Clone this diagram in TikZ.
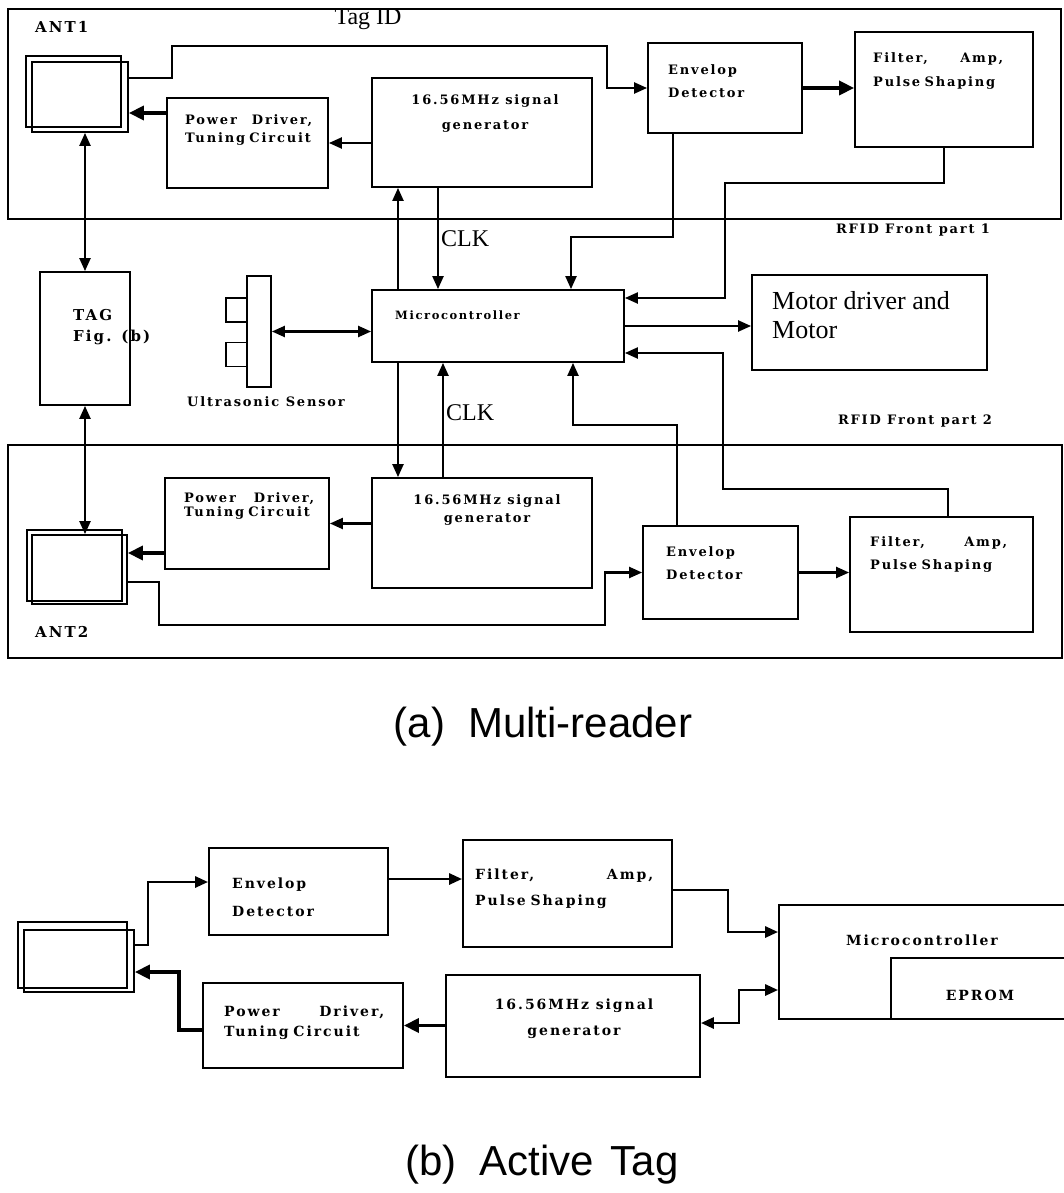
\documentclass[tikz,border=0pt]{standalone}
\usepackage{fontspec}
\setmainfont{Liberation Serif}
\newfontfamily\boxfont[LetterSpace=14]{DejaVu Serif}
\newfontfamily\capfont{Liberation Sans}
\usetikzlibrary{arrows.meta}
\newcommand{\spread}{\hskip0pt plus1filll\relax}

\begin{document}
\begin{tikzpicture}[x=1pt,y=-1pt,>={Triangle[length=13pt,width=11pt]},
  blk/.style={draw,line width=1.8pt,inner sep=0pt},
  frm/.style={draw,line width=1.4pt},
  wire/.style={line width=2.2pt},
  fat/.style={line width=3.6pt,>={Triangle[length=15pt,width=14pt]}},
  bt/.style={font=\boxfont\bfseries\fontsize{13}{#1}\selectfont,inner sep=0pt,align=left,anchor=north west},
  bt/.default=20,
  btb/.style={bt,font=\boxfont\bfseries\fontsize{14}{#1}\selectfont},
  btb/.default=26,
  rm/.style={font=\fontsize{#1}{29}\selectfont,inner sep=0pt},
  captxt/.style={font=\capfont\fontsize{42}{42}\selectfont,inner sep=0pt,anchor=base}]
  \useasboundingbox (0,0) rectangle (1064,1193);

  % (a) reader, front part 1
  \draw[frm] (8,9) rectangle (1061,219);
  \node[bt,font=\boxfont\bfseries\fontsize{15}{16}\selectfont,anchor=west] (ant1t) at (35,27) {ANT1};
  \node[rm=24] (tagid) at (368,19) {Tag ID};
  \node[blk,minimum width=96pt,minimum height=70pt] (ant1) at (80,97) {};
  \draw[blk] ([shift={(-5,-5)}]ant1.north west) rectangle ([shift={(-8,-6)}]ant1.south east);
  \node[blk,minimum width=161pt,minimum height=90pt] (pw1) at (247.5,143) {};
  \node[blk,minimum width=220pt,minimum height=109pt] (sg1) at (482,132.5) {};
  \node[blk,minimum width=154pt,minimum height=90pt] (ed1) at (725,88) {};
  \node[blk,minimum width=178pt,minimum height=115pt] (fl1) at (944,89.5) {};
  \node[bt=18,text width=127pt] (pw1t) at (185,114) {Power\spread Driver,\\Tuning Circuit};
  \node[bt=25,anchor=north,align=center] (sg1t) at (485,94) {16.56MHz signal\\generator};
  \node[bt=23] (ed1t) at (668,64) {Envelop\\Detector};
  \node[bt=24,text width=130pt] (fl1t) at (873,52) {Filter,\spread Amp,\\Pulse Shaping};
  \node[bt,anchor=center] (rf1) at (913,230) {RFID Front part 1};

  % middle row
  \node[blk,minimum width=90pt,minimum height=133pt] (tag) at (85,338.5) {};
  \node[btb=21,font=\boxfont\bfseries\fontsize{15}{21}\selectfont] (tagt) at (73,309) {TAG\\Fig. (b)};
  \node[blk,minimum width=24pt,minimum height=111pt] (usb) at (259,331.5) {};
  \foreach \y/\n in {310/us1,354.5/us2}
    \node[blk,minimum width=21pt,minimum height=24pt] (\n) at (236.5,\y) {};
  \node[bt,anchor=center] (ust) at (266,402) {Ultrasonic Sensor};
  \node[blk,minimum width=252pt,minimum height=72pt] (mc) at (498,326) {};
  \node[bt,font=\boxfont\bfseries\fontsize{11.5}{12}\selectfont,anchor=west] (mct) at (395,315) {Microcontroller};
  \node[blk,minimum width=235pt,minimum height=95pt] (mt) at (869.5,322.5) {};
  \node[rm=26,align=left,anchor=north west] (mtt) at (772,291) {Motor driver and\\Motor};

  % (a) reader, front part 2
  \draw[frm] (8,445) rectangle (1062,658);
  \node[bt,anchor=center] (rf2) at (915,421) {RFID Front part 2};
  \node[blk,minimum width=95pt,minimum height=69pt] (ant2) at (79.5,569.5) {};
  \draw[blk] ([shift={(-4,-4)}]ant2.north west) rectangle ([shift={(-6,-4)}]ant2.south east);
  \node[bt,font=\boxfont\bfseries\fontsize{15}{16}\selectfont,anchor=west] (ant2t) at (35,632) {ANT2};
  \node[blk,minimum width=164pt,minimum height=91pt] (pw2) at (247,523.5) {};
  \node[blk,minimum width=220pt,minimum height=110pt] (sg2) at (482,533) {};
  \node[blk,minimum width=155pt,minimum height=93pt] (ed2) at (720.5,572.5) {};
  \node[blk,minimum width=183pt,minimum height=115pt] (fl2) at (941.5,574.5) {};
  \node[bt=14,text width=130pt] (pw2t) at (184,492) {Power\spread Driver,\\Tuning Circuit};
  \node[bt=18,anchor=north,align=center] (sg2t) at (487,494) {16.56MHz signal\\generator};
  \node[bt=23] (ed2t) at (666,546) {Envelop\\Detector};
  \node[bt=23,text width=137pt] (fl2t) at (870,536) {Filter,\spread Amp,\\Pulse Shaping};

  % connections of (a)
  \coordinate (t1) at (172,46);
  \coordinate (t2) at (607,46);
  \draw[wire,->] ([yshift=19pt]ant1.east) -| (t1) -- (t2) |- (ed1.west);
  \draw[fat,->] ([yshift=30pt]pw1.west) -- ([yshift=30pt]pw1.west -| ant1.east);
  \draw[wire,->] (sg1.west |- pw1.east) -- (pw1.east);
  \draw[fat,->] (ed1.east) -- (ed1.east -| fl1.west);
  \draw[wire,<->] (tag.north) -- (tag.north |- ant1.south);
  \draw[wire,<->] (tag.south) -- (tag.south |- ant2.north);
  \coordinate (e1) at (571,237);
  \draw[wire,->] ([xshift=-52pt]ed1.south) |- (e1) -- (e1 |- mc.north);
  \coordinate (f1) at (725,183);
  \draw[wire,->] (fl1.south) |- (f1) |- ([yshift=28pt]mc.east);
  \draw[wire,->] ([xshift=-100pt]mc.north) -- ([xshift=-100pt]mc.north |- sg1.south);
  \draw[wire,->] ([xshift=-60pt]mc.north |- sg1.south) -- node[rm=24,right=2pt,pos=.5] (clk1) {CLK} ([xshift=-60pt]mc.north);
  \draw[wire,<->] (usb.east) -- (usb.east -| mc.west);
  \draw[wire,->] (mc.east) -- (mc.east -| mt.west);
  \draw[wire,->] ([xshift=-100pt]mc.south) -- ([xshift=-100pt]mc.south |- sg2.north);
  \draw[wire,->] ([xshift=-55pt]mc.south |- sg2.north) -- node[rm=24,right=2pt,pos=.56] (clk2) {CLK} ([xshift=-55pt]mc.south);
  \coordinate (e2) at (573,425);
  \draw[wire,->] ([xshift=-43.5pt]ed2.north) |- (e2) -- (e2 |- mc.south);
  \coordinate (f2) at (723,489);
  \draw[wire,->] ([xshift=6.5pt]fl2.north) |- (f2) |- ([yshift=-27pt]mc.east);
  \draw[wire,->] (sg2.west |- pw2.east) -- (pw2.east);
  \draw[fat,->] ([yshift=-29.5pt]pw2.west) -- ([yshift=-29.5pt]pw2.west -| ant2.east);
  \coordinate (a2a) at (159,625);
  \coordinate (a2b) at (605,625);
  \draw[wire,->] ([yshift=-12.5pt]ant2.east) -| (a2a) -- (a2b) |- (ed2.west);
  \draw[wire,->] (ed2.east) -- (ed2.east -| fl2.west);

  \node[captxt] (capa) at (543,737) {(a)\hspace{0.55em}Multi-reader};

  % (b) active tag
  \node[blk,minimum width=110pt,minimum height=62pt] (ant3) at (79,961) {};
  \draw[blk] ([shift={(-5,-7)}]ant3.north west) rectangle ([shift={(-8,-5)}]ant3.south east);
  \node[blk,minimum width=179pt,minimum height=87pt] (ed3) at (298.5,891.5) {};
  \node[blk,minimum width=209pt,minimum height=107pt] (fl3) at (567.5,893.5) {};
  \node[blk,minimum width=287pt,minimum height=114pt] (mc3) at (922.5,962) {};
  \node[blk,minimum width=175pt,minimum height=61pt] (ep) at (978.5,988.5) {};
  \node[blk,minimum width=254pt,minimum height=102pt] (sg3) at (573,1026) {};
  \node[blk,minimum width=200pt,minimum height=85pt] (pw3) at (303,1025.5) {};
  \node[btb=28] (ed3t) at (232,878) {Envelop\\Detector};
  \node[btb=26,text width=178pt] (fl3t) at (475,869) {Filter,\spread Amp,\\Pulse Shaping};
  \node[btb,anchor=center] (mc3t) at (922,940) {Microcontroller};
  \node[btb,anchor=center] (ept) at (980,995) {EPROM};
  \node[btb=26,anchor=north,align=center] (sg3t) at (574,999) {16.56MHz signal\\generator};
  \node[btb=20,text width=160pt] (pw3t) at (224,1006) {Power\spread Driver,\\Tuning Circuit};

  \coordinate (b1) at (148,882);
  \draw[wire,line width=2.8pt,->] ([yshift=16pt]ant3.east) -| (b1) -- (b1 -| ed3.west);
  \draw[wire,line width=2.8pt,->] ([yshift=12.5pt]ed3.east) -- ([yshift=12.5pt]ed3.east -| fl3.west);
  \coordinate (b2) at (728,932);
  \draw[wire,line width=2.8pt,->] ([yshift=3.5pt]fl3.east) -| (b2) -- (b2 -| mc3.west);
  \coordinate (b3) at (739,990);
  \draw[wire,line width=2.8pt,<->] ([yshift=3pt]sg3.east) -| (b3) -- (b3 -| mc3.west);
  \draw[fat,->] (sg3.west |- pw3.east) -- (pw3.east);
  \coordinate (b4) at (179,972);
  \draw[fat,->] ([yshift=-4.5pt]pw3.west) -| (b4) -- (b4 -| ant3.east);

  \node[captxt] (capb) at (542,1175) {(b)\hspace{0.55em}Active\hspace{0.4em}Tag};
\end{tikzpicture}
\end{document}
